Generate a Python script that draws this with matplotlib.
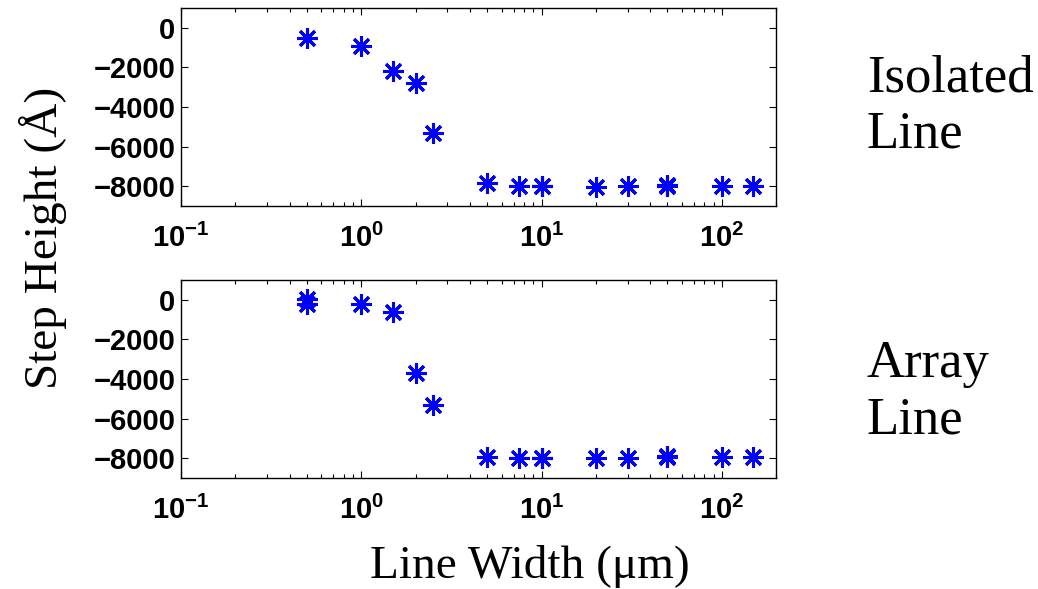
import matplotlib
matplotlib.use("Agg")
import matplotlib.pyplot as plt
from matplotlib.ticker import FixedLocator, FuncFormatter, LogLocator
import numpy as np

# line widths (um) and step heights (Angstrom)
x_iso = [0.5, 1, 1.5, 2, 2.5, 5, 7.5, 10, 10, 20, 30, 50, 50, 100, 150]
y_iso = [-490, -910, -2170, -2760, -5290, -7850, -7980, -7960, -7990,
         -8010, -7960, -7930, -7960, -7960, -7960]

x_arr = [0.5, 0.5, 1, 1.5, 2, 2.5, 5, 7.5, 10, 10, 20, 30, 50, 50, 100, 150]
y_arr = [50, -230, -210, -610, -3700, -5330, -7950, -7990, -7970, -7990,
         -8000, -7990, -7900, -7940, -7950, -7950]

yticks = [-8000, -6000, -4000, -2000, 0]
xticks = [0.1, 1, 10, 100]

plt.rcParams['font.family'] = ['Liberation Sans', 'DejaVu Sans']
plt.rcParams['font.weight'] = 'bold'
plt.rcParams['font.size'] = 21
plt.rcParams['mathtext.fontset'] = 'custom'
plt.rcParams['mathtext.bf'] = 'Liberation Sans:bold'
plt.rcParams['mathtext.rm'] = 'Liberation Sans:bold'

fig = plt.figure(figsize=(10.38, 5.89), dpi=100)
ax1 = fig.add_axes([0.1744, 0.650, 0.5732, 0.3364])
ax2 = fig.add_axes([0.1744, 0.1885, 0.5732, 0.3364])


def pow10(v, pos):
    return r'$\mathbf{10^{%d}}$' % int(round(np.log10(v)))


for ax, xs, ys in [(ax1, x_iso, y_iso), (ax2, x_arr, y_arr)]:
    ax.plot(xs, ys, linestyle='none', marker=(8, 2, 0), ms=15, mew=2.2,
            color=(0, 0, 1))
    ax.set_xscale('log')
    ax.set_xlim(0.1, 200)
    ax.set_ylim(-9000, 1000)
    ax.xaxis.set_major_locator(FixedLocator(xticks))
    ax.xaxis.set_major_formatter(FuncFormatter(pow10))
    ax.xaxis.set_minor_locator(LogLocator(base=10, subs=np.arange(2, 10)))
    ax.set_yticks(yticks)
    ax.tick_params(which='both', direction='in', top=True, right=True,
                   width=0.8)
    ax.tick_params(which='major', length=5)
    ax.tick_params(which='minor', length=3)
    ax.tick_params(axis='y', pad=4)
    ax.tick_params(axis='x', pad=13)
    for s in ax.spines.values():
        s.set_linewidth(1.0)

serif = dict(family='Liberation Serif', weight='normal')
fig.text(0.835, 1 - 92 / 589, 'Isolated', fontsize=38, va='baseline', **serif)
fig.text(0.835, 1 - 147 / 589, 'Line', fontsize=38, va='baseline', **serif)
fig.text(0.835, 1 - 377 / 589, 'Array', fontsize=38, va='baseline', **serif)
fig.text(0.835, 1 - 433 / 589, 'Line', fontsize=38, va='baseline', **serif)

fig.text(530 / 1038, 1 - 578 / 589, 'Line Width (μm)', fontsize=34,
         ha='center', va='baseline', **serif)
fig.text(43 / 1038, 1 - 238 / 589, 'Step Height (Å)', fontsize=34,
         rotation=90, ha='center', va='center', **serif)

fig.savefig('out.png', dpi=100)
